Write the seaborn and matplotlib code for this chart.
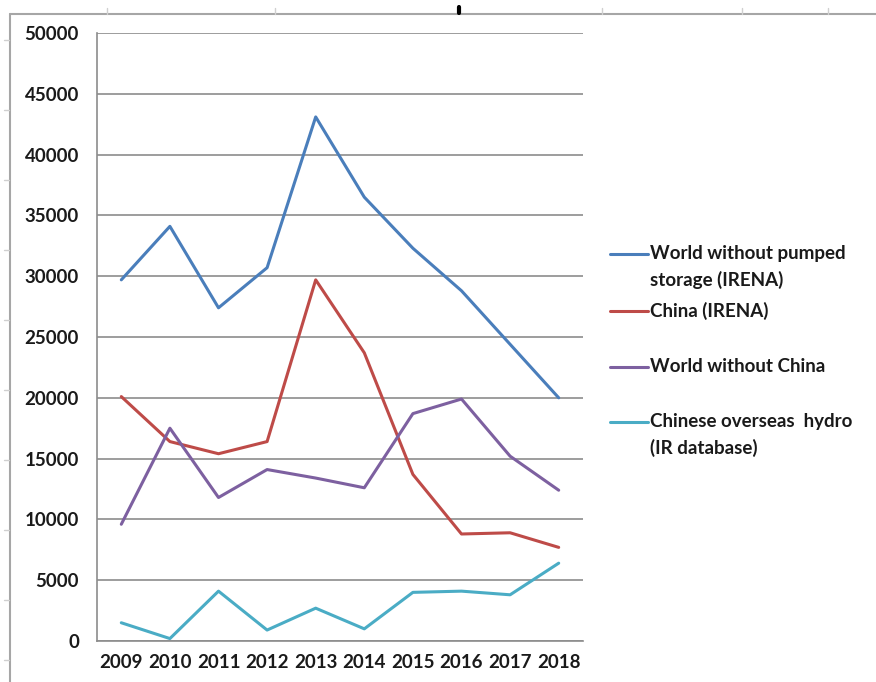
import matplotlib
matplotlib.use("Agg")
import matplotlib.pyplot as plt
from matplotlib.lines import Line2D
import numpy as np
import pandas as pd
import seaborn as sns

# ── Data ────────────────────────────────────────────────────────────
years = ["2009", "2010", "2011", "2012", "2013", "2014", "2015", "2016", "2017", "2018"]
world_no_pumped = [29700, 34100, 27400, 30700, 43100, 36500, 32300, 28800, 24400, 20000]
china_irena = [20100, 16400, 15400, 16400, 29700, 23700, 13700, 8800, 8900, 7700]
world_no_china = [9600, 17500, 11800, 14100, 13400, 12600, 18700, 19900, 15200, 12400]
chinese_overseas = [1500, 200, 4100, 900, 2700, 1000, 4000, 4100, 3800, 6400]

series_names = ["World without pumped\nstorage (IRENA)", "China (IRENA)",
                "World without China", "Chinese overseas  hydro\n(IR database)"]
series_values = [world_no_pumped, china_irena, world_no_china, chinese_overseas]
colors = ["#4A7EBB", "#BE4B48", "#7D60A0", "#4AACC5"]

df = pd.concat([pd.DataFrame({"year": years, "value": v, "series": n})
                for n, v in zip(series_names, series_values)], ignore_index=True)
df["x"] = df["year"].map({y: i for i, y in enumerate(years)})

# ── Figure ──────────────────────────────────────────────────────────
sns.set_style("white")
FONT = ["Lato", "DejaVu Sans"]
plt.rcParams["font.family"] = FONT
FS = 13.5
W, H = 876, 682

fig = plt.figure(figsize=(W / 100, H / 100), dpi=100)
ax = fig.add_axes([97 / W, 1 - 641 / H, (583 - 97) / W, (641 - 33) / H])

sns.lineplot(data=df, x="x", y="value", hue="series", palette=colors,
             hue_order=series_names, linewidth=2.2, ax=ax, legend=False)

grid_c = "#8C8C8C"
ax.set_xlim(-0.5, len(years) - 0.5)
ax.set_ylim(0, 50000)
ax.set_yticks(np.arange(0, 50001, 5000))
ax.set_yticklabels([str(v) for v in range(0, 50001, 5000)],
                   fontsize=FS, fontweight="bold", color="#1A1A1A")
ax.set_xticks(range(len(years)))
ax.set_xticklabels(years, fontsize=FS, fontweight="bold", color="#1A1A1A")
ax.set_xticks(np.arange(-0.5, len(years), 1), minor=True)
ax.tick_params(axis="x", which="major", length=0, pad=9)
ax.tick_params(axis="x", which="minor", length=6, color=grid_c, width=1.2, direction="out")
ax.tick_params(axis="y", length=7, color=grid_c, width=1.2, pad=6)
ax.yaxis.grid(True, color=grid_c, linewidth=1.2)
ax.set_axisbelow(True)
for side in ["top", "right"]:
    ax.spines[side].set_visible(False)
for side in ["left", "bottom"]:
    ax.spines[side].set_color(grid_c)
    ax.spines[side].set_linewidth(1.2)
ax.set_xlabel("")
ax.set_ylabel("")

# Legend, laid out like the Excel one (uneven entry spacing)
entry_y = [254, 311, 367, 422]
for name, c, ey in zip(series_names, colors, entry_y):
    fig.add_artist(Line2D([610 / W, 648 / W], [1 - ey / H] * 2, color=c, lw=2.2))
    for k, line in enumerate(name.split("\n")):
        fig.text(650 / W, 1 - (ey + 26 * k) / H, line, fontsize=FS, fontweight="bold",
                 color="#1A1A1A", va="center", ha="left")

# Excel-style sheet frame
frame_c = "#A6A6A6"
fig.add_artist(Line2D([10 / W, 1], [1 - 14 / H] * 2, color=frame_c, lw=1.5))
fig.add_artist(Line2D([10 / W] * 2, [0, 1 - 14 / H], color=frame_c, lw=1.5))
for px in [107, 275, 602, 742, 828]:
    fig.add_artist(Line2D([px / W] * 2, [1 - 8 / H, 1 - 14 / H], color="#D0D0D0", lw=1))
for py in [40, 110, 180, 250, 320, 390, 460, 530, 600, 660]:
    fig.add_artist(Line2D([4 / W, 9 / W], [1 - py / H] * 2, color="#D0D0D0", lw=1))
fig.add_artist(Line2D([459 / W] * 2, [1 - 7 / H, 1 - 13 / H], color="black", lw=3))

fig.savefig("out.png", dpi=100, facecolor="white")
